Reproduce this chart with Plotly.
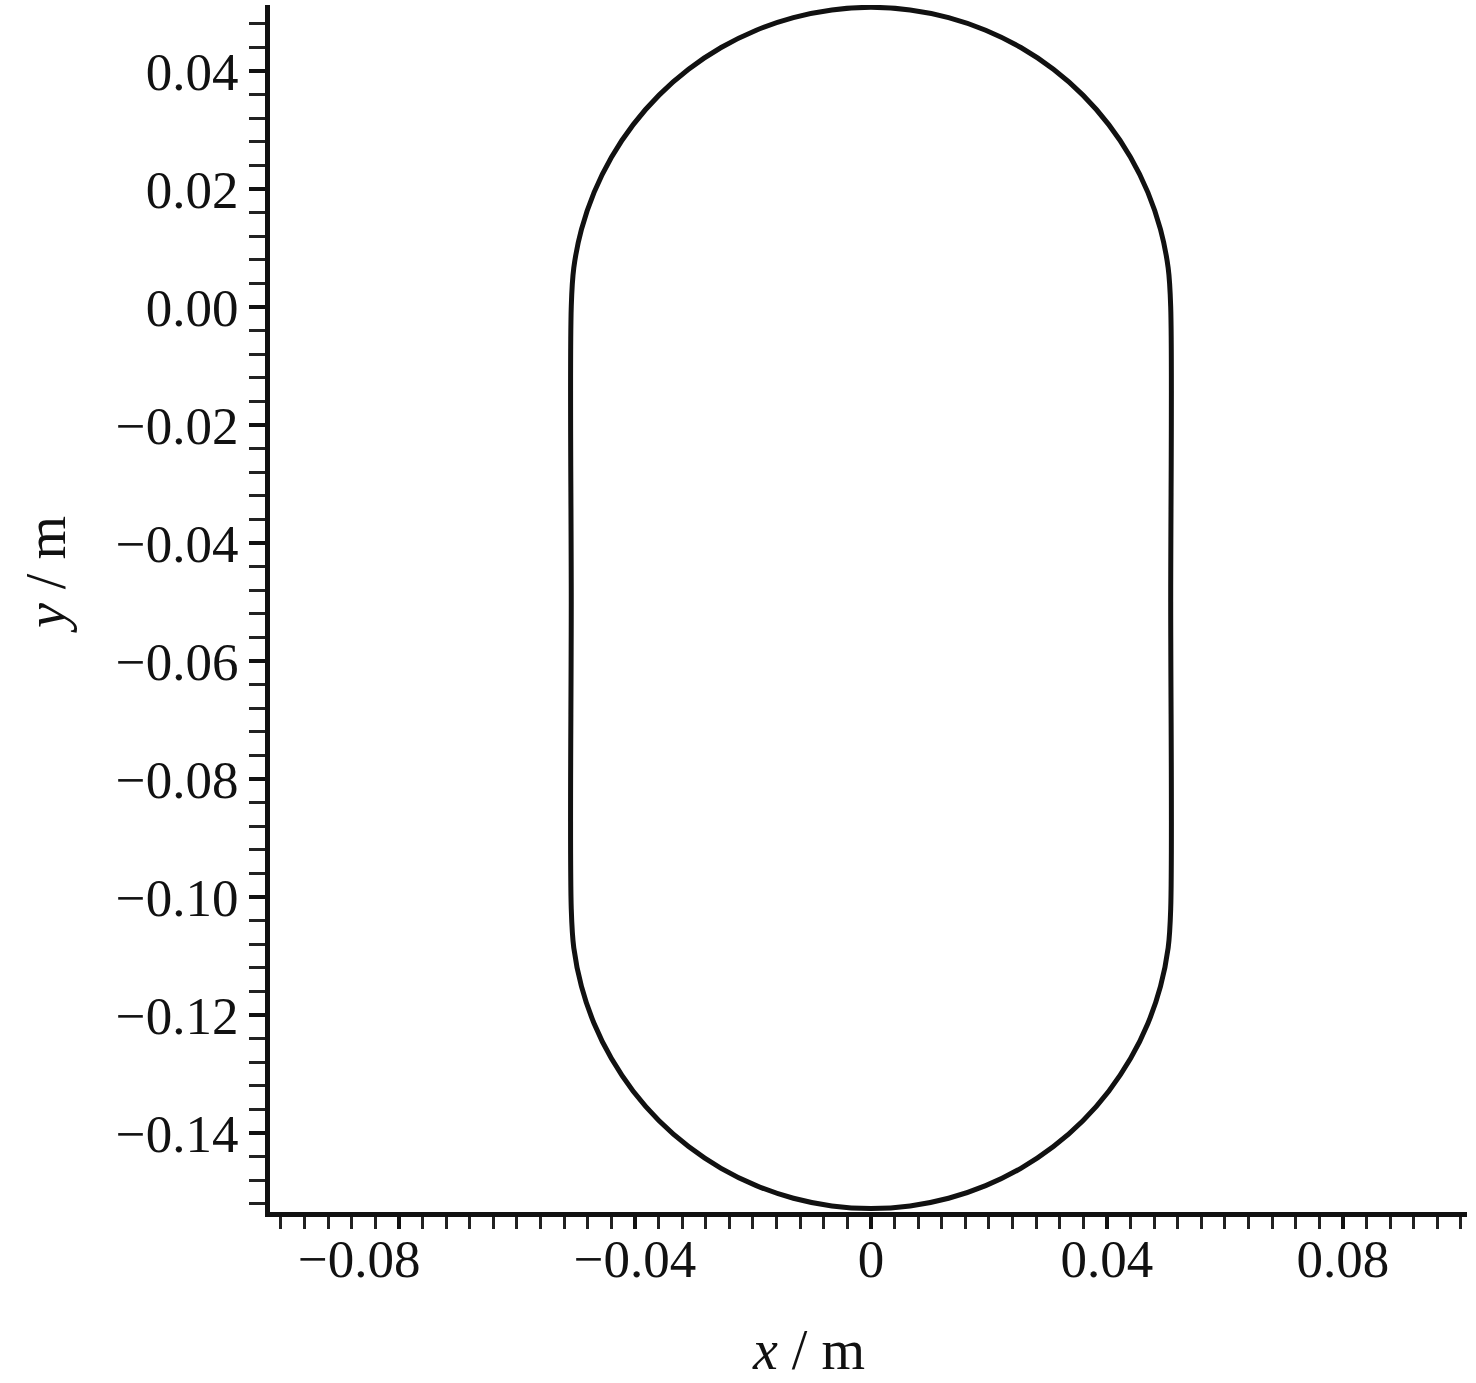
import plotly.graph_objects as go

# Stadium-shaped trajectory points (metres)
path_x = [0.0508, 0.0508, 0.05037, 0.04907, 0.04693, 0.04399, 0.04030, 0.03592,
          0.03092, 0.02540, 0.01944, 0.01315, 0.00663, 0.0,
          -0.00663, -0.01315, -0.01944, -0.02540, -0.03092, -0.03592, -0.04030,
          -0.04399, -0.04693, -0.04907, -0.05037, -0.0508,
          -0.0508, -0.0508,
          -0.05037, -0.04907, -0.04693, -0.04399, -0.04030, -0.03592,
          -0.03092, -0.02540, -0.01944, -0.01315, -0.00663, 0.0,
          0.00663, 0.01315, 0.01944, 0.02540, 0.03092, 0.03592, 0.04030,
          0.04399, 0.04693, 0.04907, 0.05037, 0.0508, 0.0508]
path_y = [-0.0500, 0.0, 0.00663, 0.01315, 0.01944, 0.02540, 0.03092, 0.03592,
          0.04030, 0.04399, 0.04693, 0.04907, 0.05037, 0.0508,
          0.05037, 0.04907, 0.04693, 0.04399, 0.04030, 0.03592, 0.03092,
          0.02540, 0.01944, 0.01315, 0.00663, 0.0,
          -0.0500, -0.1020,
          -0.10863, -0.11515, -0.12144, -0.12740, -0.13292, -0.13792,
          -0.14230, -0.14599, -0.14893, -0.15107, -0.15237, -0.1528,
          -0.15237, -0.15107, -0.14893, -0.14599, -0.14230, -0.13792, -0.13292,
          -0.12740, -0.12144, -0.11515, -0.10863, -0.1020, -0.0500]

x_tickvals = [-0.08, -0.04, 0.0, 0.04, 0.08]
x_ticktext = ["\u22120.08" + "\u00a0" * 6, "\u22120.04", "0", "0.04", "0.08"]
y_tickvals = [0.04, 0.02, 0.0, -0.02, -0.04, -0.06, -0.08, -0.10, -0.12, -0.14]
y_ticktext = ["0.04", "0.02", "0.00", "\u22120.02", "\u22120.04", "\u22120.06",
              "\u22120.08", "\u22120.10", "\u22120.12", "\u22120.14"]

FONT = "Liberation Serif, Times New Roman, serif"
INK = "#111111"

fig = go.Figure()
fig.add_trace(go.Scatter(
    x=path_x, y=path_y, mode="lines",
    line=dict(color=INK, width=5, shape="spline", smoothing=1.0),
    showlegend=False, hoverinfo="skip"))

fig.update_layout(
    width=1476, height=1383,
    margin=dict(l=270, r=9, t=5, b=171),
    paper_bgcolor="white", plot_bgcolor="white",
    font=dict(family=FONT, size=53, color=INK),
    showlegend=False,
)

fig.update_xaxes(
    range=[-0.10186, 0.10102],
    tickmode="array", tickvals=x_tickvals, ticktext=x_ticktext,
    ticks="outside", ticklen=12, tickwidth=4, tickcolor=INK,
    minor=dict(tickmode="linear", tick0=0, dtick=0.004, ticks="outside",
               ticklen=12, tickwidth=2.5, tickcolor="#222222", showgrid=False),
    showline=True, linewidth=5, linecolor=INK,
    showgrid=False, zeroline=False,
    tickfont=dict(family=FONT, size=53, color=INK),
    ticklabelstandoff=-16,
)
fig.update_yaxes(
    range=[-0.1534, 0.0512],
    tickmode="array", tickvals=y_tickvals, ticktext=y_ticktext,
    ticks="outside", ticklen=16, tickwidth=4, tickcolor=INK,
    minor=dict(tickmode="linear", tick0=0, dtick=0.004, ticks="outside",
               ticklen=16, tickwidth=2.5, tickcolor="#222222", showgrid=False),
    showline=True, linewidth=5, linecolor=INK,
    showgrid=False, zeroline=False,
    tickfont=dict(family=FONT, size=53, color=INK),
    ticklabelstandoff=0,
)

PW = 1476 - 270 - 9
PH = 1383 - 5 - 171
fig.add_annotation(
    text="<i>x</i> / m", xref="paper", yref="paper",
    x=(808 - 270) / PW, y=-(1350 - 1212) / PH,
    xanchor="center", yanchor="middle", showarrow=False,
    font=dict(family=FONT, size=56, color=INK))
fig.add_annotation(
    text="<i>y</i> / m", xref="paper", yref="paper",
    x=-(270 - 46) / PW, y=(1212 - 575) / PH,
    xanchor="center", yanchor="middle", textangle=-90, showarrow=False,
    font=dict(family=FONT, size=56, color=INK))

fig.write_html("out.html",
               config={"displayModeBar": False},
               post_script="document.body.style.margin='0';document.body.style.padding='0';")
